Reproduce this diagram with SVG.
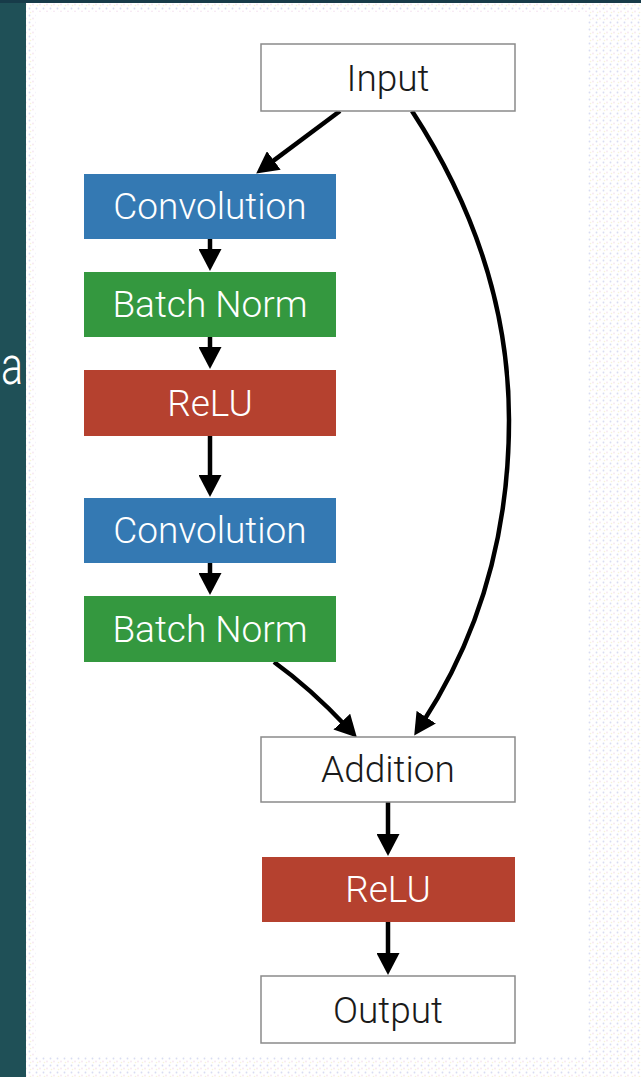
<svg xmlns="http://www.w3.org/2000/svg" width="641" height="1077" viewBox="0 0 641 1077">
  <style>
    .lbl{font-family:Roboto,"Liberation Sans",Arial,sans-serif;font-weight:300;font-size:37px;text-anchor:middle}
    .wt{fill:#ffffff}
    .dk{fill:#1a1a1a}
    .plain{fill:#ffffff;stroke:#8a8a8a;stroke-width:1.5}
    .conv{fill:#3479b3}
    .bn{fill:#34983f}
    .relu{fill:#b5412f}
    .edge{fill:none;stroke:#000;stroke-width:4.5}
  </style>
  <defs>
    <pattern id="dots" width="7" height="7" patternUnits="userSpaceOnUse">
      <rect width="7" height="7" fill="#ffffff"/>
      <circle cx="1.5" cy="1.5" r="0.9" fill="#d8dcf2"/>
      <circle cx="5" cy="4.5" r="0.9" fill="#f6e6f2"/>
      <circle cx="2.5" cy="5.5" r="0.8" fill="#f8f4d8"/>
    </pattern>
    <marker id="ah" viewBox="0 0 22 23" markerWidth="22" markerHeight="23" refX="7" refY="11.5" orient="auto" markerUnits="userSpaceOnUse">
      <path d="M0,0 L22,11.5 L0,23 z" fill="#000"/>
    </marker>
  </defs>

  <g id="background">
    <rect x="0" y="0" width="641" height="1077" fill="url(#dots)"/>
    <rect x="36" y="12" width="552" height="1044" fill="#ffffff"/>
    <rect x="0" y="0" width="26" height="1077" fill="#1f5057"/>
    <rect x="0" y="0" width="641" height="3" fill="#173b49"/>
    <text x="1" y="384" font-family="Roboto,'Liberation Sans',Arial,sans-serif" font-weight="300" font-size="54" fill="#ffffff" textLength="22" lengthAdjust="spacingAndGlyphs">a</text>
  </g>

  <g id="connectors">
    <line class="edge" x1="340" y1="111" x2="268.2" y2="164.6" marker-end="url(#ah)"/>
    <line class="edge" x1="210" y1="239" x2="210" y2="256" marker-end="url(#ah)"/>
    <line class="edge" x1="210" y1="337" x2="210" y2="354" marker-end="url(#ah)"/>
    <line class="edge" x1="210" y1="436" x2="210" y2="482" marker-end="url(#ah)"/>
    <line class="edge" x1="210" y1="563" x2="210" y2="580" marker-end="url(#ah)"/>
    <path class="edge" d="M274,662 Q310,688 346.6,726.7" marker-end="url(#ah)"/>
    <path class="edge" d="M412,111 Q509,260 509,420 Q509,590 422.4,723" marker-end="url(#ah)"/>
    <line class="edge" x1="388" y1="802" x2="388" y2="841" marker-end="url(#ah)"/>
    <line class="edge" x1="388" y1="922" x2="388" y2="960" marker-end="url(#ah)"/>
  </g>

  <g id="input">
    <rect class="plain" x="261" y="44" width="254" height="67"/>
    <text class="lbl dk" x="388" y="91">Input</text>
  </g>
  <g id="conv1">
    <rect class="conv" x="84" y="174" width="252" height="65"/>
    <text class="lbl wt" x="210" y="219">Convolution</text>
  </g>
  <g id="bn1">
    <rect class="bn" x="84" y="272" width="252" height="65"/>
    <text class="lbl wt" x="210" y="317">Batch Norm</text>
  </g>
  <g id="relu1">
    <rect class="relu" x="84" y="370" width="252" height="66"/>
    <text class="lbl wt" x="210" y="416">ReLU</text>
  </g>
  <g id="conv2">
    <rect class="conv" x="84" y="498" width="252" height="65"/>
    <text class="lbl wt" x="210" y="543">Convolution</text>
  </g>
  <g id="bn2">
    <rect class="bn" x="84" y="596" width="252" height="66"/>
    <text class="lbl wt" x="210" y="642">Batch Norm</text>
  </g>
  <g id="addition">
    <rect class="plain" x="261" y="737" width="254" height="65"/>
    <text class="lbl dk" x="388" y="782">Addition</text>
  </g>
  <g id="relu2">
    <rect class="relu" x="262" y="857" width="253" height="65"/>
    <text class="lbl wt" x="388" y="902">ReLU</text>
  </g>
  <g id="output">
    <rect class="plain" x="261" y="976" width="254" height="67"/>
    <text class="lbl dk" x="388" y="1023">Output</text>
  </g>
</svg>
